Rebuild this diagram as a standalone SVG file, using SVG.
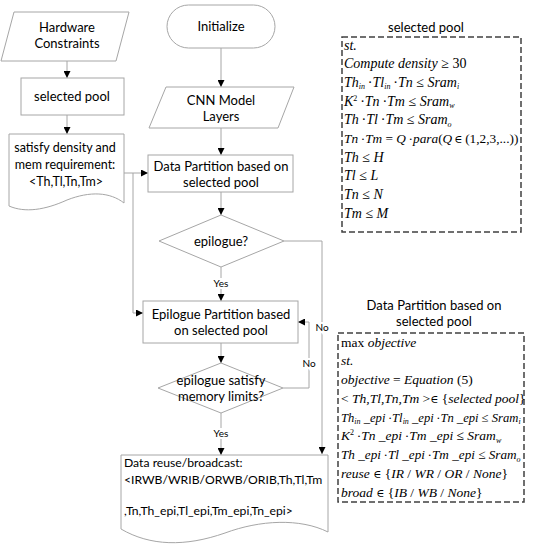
<svg xmlns="http://www.w3.org/2000/svg" width="533" height="550" viewBox="0 0 533 550">
<defs>
<marker id="ah" markerWidth="7" markerHeight="7" refX="7" refY="3.5" orient="auto" markerUnits="userSpaceOnUse">
<path d="M0,0 L7,3.5 L0,7 Z" fill="#000"/>
</marker>
<style>
.fc{fill:#fff;stroke:#a6a6a6;stroke-width:1}
.t{font-family:Lato,"Liberation Sans",sans-serif;font-size:13px;fill:#000;text-anchor:middle}
.tl{font-family:Lato,"Liberation Sans",sans-serif;font-size:12.2px;fill:#000}
.c{fill:none;stroke:#a6a6a6;stroke-width:1;marker-end:url(#ah)}
.lbl{font-family:Lato,"Liberation Sans",sans-serif;font-size:10px;fill:#000;text-anchor:middle;paint-order:stroke;stroke:#fff;stroke-width:4}
.db{fill:none;stroke:#404040;stroke-width:1.5;stroke-dasharray:6 3}
.m{font-family:"Liberation Serif",serif;font-size:14px;font-style:italic;fill:#000}
.m2{font-size:13.5px}
.u{font-style:normal}
.s{font-size:8px}
.e{font-family:"DejaVu Serif",serif;font-size:11px;font-style:normal}
</style>
</defs>
<rect width="533" height="550" fill="#fff"/>

<g id="connectors">
<path class="c" d="M67,61 V78"/>
<path class="c" d="M67,115 V134"/>
<path class="c" d="M124,173 H148"/>
<path class="c" d="M133,173 V313 H143"/>
<path class="c" d="M221,48 V87"/>
<path class="c" d="M221,128 V155"/>
<path class="c" d="M221,192 V215"/>
<path class="c" d="M221,267 V301"/>
<path class="c" d="M284,241 H322 V454"/>
<path class="c" d="M221,343 V363"/>
<path class="c" d="M283,388 H309 V322 H298"/>
<path class="c" d="M221,413 V455"/>
<text class="lbl" x="221" y="287">Yes</text>
<text class="lbl" x="322" y="331">No</text>
<text class="lbl" x="309" y="367">No</text>
<text class="lbl" x="221" y="437">Yes</text>
</g>

<g id="hardware">
<path class="fc" d="M14,12 H129 L116,61 H1 Z"/>
<text class="t" x="67" y="32">Hardware</text>
<text class="t" x="67" y="48">Constraints</text>
</g>

<g id="selpool">
<rect class="fc" x="21" y="78" width="103" height="37"/>
<text class="t" x="72" y="101">selected pool</text>
</g>

<g id="satisfy">
<path class="fc" d="M9,134 H124 V203 C110,192 90,191 67,200 C45,210 25,213 9,206 Z"/>
<text class="t" x="65" y="152" style="font-size:12.5px">satisfy density and</text>
<text class="t" x="65" y="169" style="font-size:12.5px">mem requirement:</text>
<text class="t" x="66" y="186" style="font-size:12.5px">&lt;Th,Tl,Tn,Tm&gt;</text>
</g>

<g id="init">
<rect class="fc" x="167" y="5" width="108" height="43" rx="21.5"/>
<text class="t" x="221" y="31">Initialize</text>
</g>

<g id="cnn">
<path class="fc" d="M166,87 H294 L278,128 H149 Z"/>
<text class="t" x="221" y="105">CNN Model</text>
<text class="t" x="221" y="121">Layers</text>
</g>

<g id="dp">
<rect class="fc" x="148" y="155" width="145" height="37"/>
<text class="t" x="221" y="171">Data Partition based on</text>
<text class="t" x="221" y="187">selected pool</text>
</g>

<g id="epi">
<path class="fc" d="M221,215 L284,241 L221,267 L159,241 Z"/>
<text class="t" x="221" y="246">epilogue?</text>
</g>

<g id="epipart">
<rect class="fc" x="143" y="301" width="155" height="42"/>
<text class="t" x="221" y="319">Epilogue Partition based</text>
<text class="t" x="221" y="335">on selected pool</text>
</g>

<g id="episat">
<path class="fc" d="M221,363 L283,388 L221,413 L158,388 Z"/>
<text class="t" x="221" y="385">epilogue satisfy</text>
<text class="t" x="221" y="401">memory limits?</text>
</g>

<g id="reuse">
<path class="fc" d="M121,455 H328 V532 C300,518 260,520 225,533 C185,547 150,546 121,529 Z"/>
<text class="tl" x="124" y="467">Data reuse/broadcast:</text>
<text class="tl" x="124" y="484">&lt;IRWB/WRIB/ORWB/ORIB,Th,Tl,Tm</text>
<text class="tl" x="124" y="515">,Tn,Th_epi,Tl_epi,Tm_epi,Tn_epi&gt;</text>
</g>

<g id="panel1">
<text class="t" x="426" y="32">selected pool</text>
<rect class="db" x="342" y="37" width="179" height="195"/>
<text class="m" x="344" y="49.5">st.</text>
<text class="m" x="344" y="68.2">Compute  density <tspan class="u">≥ 30</tspan></text>
<text class="m" x="344" y="86.8">Th<tspan class="s" dy="2.5">in</tspan><tspan class="u" dy="-2.5">&#8201;·</tspan>Tl<tspan class="s" dy="2.5">in</tspan><tspan class="u" dy="-2.5">&#8201;·</tspan>Tn <tspan class="u">≤</tspan> Sram<tspan class="s" dy="2.5">i</tspan></text>
<text class="m" x="344" y="105.5">K<tspan class="s u" dy="-5">2</tspan><tspan class="u" dy="5">&#8201;·</tspan>Tn<tspan class="u">&#8201;·</tspan>Tm <tspan class="u">≤</tspan> Sram<tspan class="s" dy="2.5">w</tspan></text>
<text class="m" x="344" y="124.2">Th<tspan class="u">&#8201;·</tspan>Tl<tspan class="u">&#8201;·</tspan>Tm <tspan class="u">≤</tspan> Sram<tspan class="s" dy="2.5">o</tspan></text>
<text class="m" x="344" y="142.8" style="font-size:13.3px">Tn<tspan class="u">&#8201;·</tspan>Tm <tspan class="u">=</tspan> Q<tspan class="u">&#8201;·</tspan>para<tspan class="u">(</tspan>Q<tspan class="e">&#8201;∈</tspan><tspan class="u">&#8201;(1,2,3,...))</tspan></text>
<text class="m" x="344" y="161.5">Th <tspan class="u">≤</tspan> H</text>
<text class="m" x="344" y="180.2">Tl <tspan class="u">≤</tspan> L</text>
<text class="m" x="344" y="198.8">Tn <tspan class="u">≤</tspan> N</text>
<text class="m" x="344" y="217.5">Tm <tspan class="u">≤</tspan> M</text>
</g>

<g id="panel2">
<text class="t" x="434" y="310">Data Partition based on</text>
<text class="t" x="434" y="326">selected pool</text>
<rect class="db" x="338" y="333" width="186" height="169"/>
<text class="m m2" x="341" y="346.5"><tspan class="u">max</tspan> objective</text>
<text class="m m2" x="341" y="365.3">st.</text>
<text class="m m2" x="341" y="384">objective <tspan class="u">=</tspan> Equation  <tspan class="u">(5)</tspan></text>
<text class="m m2" x="341" y="402.8"><tspan class="u">&lt;</tspan> Th,Tl,Tn,Tm <tspan class="u">&gt;</tspan><tspan class="e">∈</tspan><tspan class="u"> {</tspan>selected pool<tspan class="u">}</tspan></text>
<text class="m" x="341" y="421.5" style="font-size:12.6px">Th<tspan class="s" dy="2.5">in</tspan><tspan dy="-2.5"> _epi</tspan><tspan class="u">&#8201;·</tspan>Tl<tspan class="s" dy="2.5">in</tspan><tspan dy="-2.5"> _epi</tspan><tspan class="u">&#8201;·</tspan>Tn _epi <tspan class="u">≤</tspan> Sram<tspan class="s" dy="2.5">i</tspan></text>
<text class="m m2" x="341" y="440.3">K<tspan class="s u" dy="-5">2</tspan><tspan class="u" dy="5">&#8201;·</tspan>Tn _epi<tspan class="u">&#8201;·</tspan>Tm _epi <tspan class="u">≤</tspan> Sram<tspan class="s" dy="2.5">w</tspan></text>
<text class="m" x="341" y="459" style="font-size:13.2px">Th _epi<tspan class="u">&#8201;·</tspan>Tl _epi<tspan class="u">&#8201;·</tspan>Tm _epi <tspan class="u">≤</tspan> Sram<tspan class="s" dy="2.5">o</tspan></text>
<text class="m m2" x="341" y="477.8">reuse <tspan class="e">∈</tspan><tspan class="u"> {</tspan>IR <tspan class="u">/</tspan> WR <tspan class="u">/</tspan> OR <tspan class="u">/</tspan> None<tspan class="u">}</tspan></text>
<text class="m m2" x="341" y="496.5">broad <tspan class="e">∈</tspan><tspan class="u"> {</tspan>IB <tspan class="u">/</tspan> WB <tspan class="u">/</tspan> None<tspan class="u">}</tspan></text>
</g>
</svg>
